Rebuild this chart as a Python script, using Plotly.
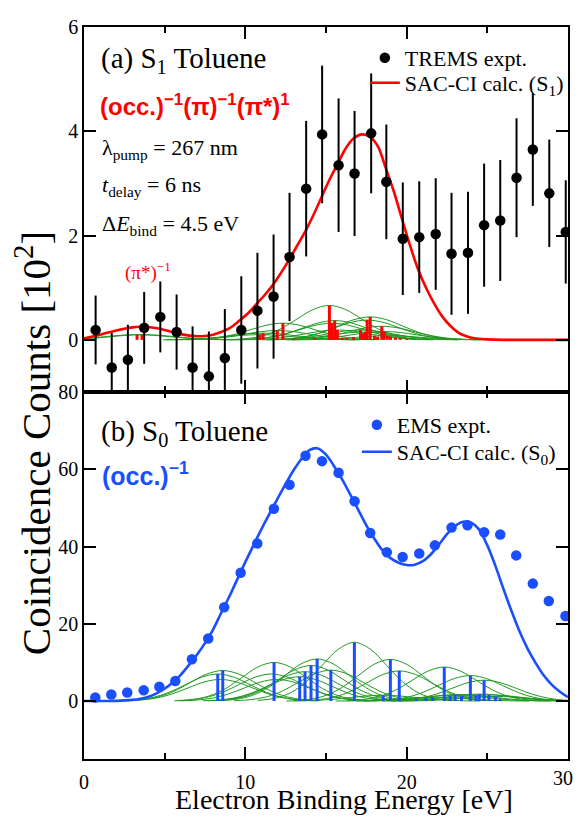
import plotly.graph_objects as go

SERIF = "Liberation Serif, Times New Roman, serif"
SANS = "Liberation Sans, Arial, sans-serif"
RED = "#ff0000"
BLUE = "#1a4fff"
GREEN = "#1f9a1f"

# ---------------- (a) S1 toluene : TREMS experiment ----------------
trems_x = [0.72, 1.72, 2.72, 3.73, 4.73, 5.74, 6.73, 7.74, 8.73, 9.75,
           10.75, 11.75, 12.74, 13.77, 14.76, 15.78, 16.77, 17.80, 18.74, 19.76,
           20.78, 21.80, 22.78, 23.80, 24.80, 25.80, 26.81, 27.82, 28.84, 29.86]
trems_y = [0.19, -0.53, -0.38, 0.23, 0.44, 0.15, -0.53, -0.70, -0.35, 0.19,
           0.56, 0.83, 1.59, 2.90, 3.94, 3.35, 3.19, 3.96, 3.03, 1.94,
           1.97, 2.03, 1.65, 1.67, 2.20, 2.29, 3.11, 3.65, 2.81, 2.07]
trems_err = [0.66, 0.66, 0.67, 0.69, 0.68, 0.72, 0.79, 0.86, 0.94, 1.03,
             1.11, 1.19, 1.23, 1.30, 1.32, 1.28, 1.20, 1.15, 1.10, 1.08,
             1.07, 1.07, 1.17, 1.17, 1.18, 1.16, 1.14, 1.08, 1.03, 0.99]

# SAC-CI (S1) envelope
s1_x = [0, 1, 2, 3, 3.5, 4, 5, 6, 7, 7.5, 8, 8.5, 9, 9.6, 10.2, 10.7, 11.2, 11.7,
        12.2, 12.7, 13.2, 13.7, 14.2, 14.7, 15.2, 15.7, 16.2, 16.7, 17.2, 17.7,
        18.2, 18.7, 19.2, 19.7, 20.2, 20.7, 21.2, 21.7, 22.2, 22.7, 23.2, 23.7,
        24.2, 25, 26, 28, 30]
s1_y = [0.03, 0.10, 0.18, 0.24, 0.25, 0.245, 0.19, 0.11, 0.07, 0.075, 0.10, 0.15,
        0.22, 0.36, 0.52, 0.69, 0.86, 1.05, 1.28, 1.53, 1.80, 2.07, 2.38, 2.72,
        3.06, 3.36, 3.66, 3.86, 3.94, 3.90, 3.72, 3.30, 2.85, 2.33, 1.82, 1.36,
        1.00, 0.70, 0.45, 0.27, 0.14, 0.07, 0.03, 0.01, 0, 0, 0]

# SAC-CI (S1) stick spectrum
s1_stick_x = [3.29, 3.60, 10.90, 11.10, 11.98, 12.33, 13.00, 14.30, 15.21, 15.37,
              15.54, 15.70, 16.00, 16.30, 16.70, 17.14, 17.30, 17.45, 17.55, 17.74,
              18.00, 18.20, 18.46, 18.60, 18.80, 19.00, 19.30, 19.60, 20.00]
s1_stick_h = [0.10, 0.10, 0.10, 0.13, 0.18, 0.32, 0.02, 0.03, 0.66, 0.32,
              0.37, 0.19, 0.04, 0.03, 0.05, 0.19, 0.12, 0.15, 0.38, 0.44,
              0.08, 0.06, 0.26, 0.16, 0.08, 0.06, 0.04, 0.03, 0.02]

# broadened (green) components of (a)
s1_band_c = [3.29, 3.66, 10.90, 11.10, 11.98, 12.33, 15.21, 15.37, 15.54, 15.70,
             17.14, 17.35, 17.55, 17.74, 18.46, 18.60, 18.90]
s1_band_h = [0.10, 0.10, 0.10, 0.13, 0.18, 0.32, 0.66, 0.32, 0.37, 0.19,
             0.19, 0.15, 0.38, 0.44, 0.26, 0.16, 0.08]

# ---------------- (b) S0 toluene : EMS experiment ----------------
ems_x = [0.70, 1.69, 2.68, 3.70, 4.67, 5.66, 6.69, 7.70, 8.69, 9.71,
         10.74, 11.77, 12.74, 13.73, 14.75, 15.78, 16.77, 17.74, 18.77, 19.75,
         20.78, 21.75, 22.78, 23.77, 24.80, 25.80, 26.79, 27.82, 28.81, 29.84]
ems_y = [0.9, 1.7, 2.2, 2.8, 3.7, 5.2, 10.8, 16.2, 24.3, 33.2,
         40.8, 49.8, 56.0, 63.5, 62.1, 59.1, 51.7, 43.5, 38.5, 37.3,
         38.2, 40.3, 44.9, 45.5, 43.7, 43.1, 37.7, 30.4, 25.9, 22.0]

s0_x = [0, 1, 2, 3, 3.5, 4, 4.5, 5, 5.5, 6, 6.5, 7, 7.5, 8, 8.5, 9, 9.5, 10,
        10.5, 11, 11.5, 12, 12.5, 13, 13.5, 14, 14.5, 15, 15.5, 16, 16.5, 17,
        17.5, 18, 18.5, 19, 19.5, 20, 20.5, 21, 21.5, 22, 22.5, 23, 23.5, 24,
        24.5, 25, 25.5, 26, 26.5, 27, 27.5, 28, 28.5, 29, 29.5, 30]
s0_y = [0, 0, 0.05, 0.3, 0.6, 1.1, 2.0, 3.2, 4.8, 6.8, 9.3, 12.0, 15.0, 18.5,
        22.8, 27.0, 31.5, 36.0, 40.3, 44.5, 48.5, 52.4, 56.2, 59.8, 62.8, 65.0,
        65.4, 63.8, 60.8, 57.4, 53.5, 49.5, 45.5, 42.0, 39.0, 37.0, 35.8, 35.2,
        35.3, 36.2, 38.0, 40.5, 43.2, 45.3, 46.4, 46.2, 44.3, 40.3, 35.0, 29.0,
        23.3, 18.0, 13.5, 9.8, 6.6, 4.2, 2.4, 1.0]

s0_stick_x = [8.29, 8.60, 11.78, 13.37, 13.70, 14.07, 14.45, 15.30, 16.76, 18.54,
              18.99, 19.54, 20.60, 21.20, 21.60, 22.33, 22.70, 23.00, 23.40, 23.95,
              24.30, 24.50, 24.80, 25.10, 25.50, 25.80]
s0_stick_h = [7.0, 7.9, 10.0, 6.3, 7.6, 9.2, 10.9, 8.0, 15.2, 1.5,
              10.8, 7.8, 0.6, 0.8, 1.0, 8.8, 1.4, 1.7, 1.3, 6.6,
              1.5, 1.8, 5.4, 1.6, 1.2, 0.6]

s0_band_c = [8.29, 8.45, 8.60, 11.60, 11.78, 11.95, 13.37, 13.70, 14.07, 14.45,
             15.30, 16.76, 18.54, 18.99, 19.54, 21.60, 22.33, 22.90, 23.30, 23.95,
             24.50, 24.80, 25.10, 25.50]
s0_band_h = [7.0, 5.6, 7.9, 7.0, 10.0, 5.6, 6.3, 7.6, 9.2, 10.9,
             8.0, 15.2, 1.5, 10.8, 7.8, 1.0, 8.8, 1.5, 1.7, 6.6,
             1.8, 5.4, 1.6, 1.2]

# relative shape of one broadened band
band_dx = [-6, -5, -4, -3, -2, -1, 0, 1, 2, 3, 4, 5, 6]
band_shape = [0.011, 0.044, 0.135, 0.325, 0.607, 0.882, 1.0,
              0.882, 0.607, 0.325, 0.135, 0.044, 0.011]

x_tickvals = [0, 10, 20, 30]
x_ticktext = ["0", "10", "20", ""]      # "30" is placed as a text at the edge

fig = go.Figure()


def add_bands(centers, heights, xa, ya):
    for c, h in zip(centers, heights):
        fig.add_trace(go.Scatter(
            x=[c + d for d in band_dx], y=[h * s for s in band_shape],
            mode="lines", line=dict(color=GREEN, width=1, shape="spline"),
            xaxis=xa, yaxis=ya, showlegend=False, hoverinfo="skip"))


def add_sticks(pos, hts, color, width, xa, ya):
    xs, ys = [], []
    for p, h in zip(pos, hts):
        xs += [p, p, None]
        ys += [0, h, None]
    fig.add_trace(go.Scatter(x=xs, y=ys, mode="lines",
                             line=dict(color=color, width=width),
                             xaxis=xa, yaxis=ya, showlegend=False,
                             hoverinfo="skip"))


# ---- panel (a): top (x2, y2)
add_bands(s1_band_c, s1_band_h, "x2", "y2")
add_sticks(s1_stick_x, s1_stick_h, RED, 3, "x2", "y2")
fig.add_trace(go.Scatter(x=s1_x, y=s1_y, mode="lines",
                         line=dict(color=RED, width=2.6, shape="spline"),
                         name="SAC-CI calc. (S<sub>1</sub>)", legend="legend2",
                         xaxis="x2", yaxis="y2"))
fig.add_trace(go.Scatter(x=trems_x, y=trems_y, mode="markers",
                         marker=dict(color="black", size=10.5),
                         error_y=dict(type="data", array=trems_err,
                                      color="black", thickness=2, width=0),
                         name="TREMS expt.", legend="legend",
                         xaxis="x2", yaxis="y2"))

# ---- panel (b): bottom (x, y)
add_bands(s0_band_c, s0_band_h, "x", "y")
add_sticks(s0_stick_x, s0_stick_h, BLUE, 3, "x", "y")
fig.add_trace(go.Scatter(x=s0_x, y=s0_y, mode="lines",
                         line=dict(color=BLUE, width=2.6, shape="spline"),
                         name="SAC-CI calc. (S<sub>0</sub>)", legend="legend4",
                         xaxis="x", yaxis="y"))
fig.add_trace(go.Scatter(x=ems_x, y=ems_y, mode="markers",
                         marker=dict(color=BLUE, size=10.5),
                         name="EMS expt.", legend="legend3",
                         xaxis="x", yaxis="y"))

# ---------------- layout ----------------
# page body has an 8 px margin; keep the figure inside the 585x823 window
# so the plot area lands on page x 84..570, y 27..759
OFF = 8
W, H = 585 - 2 * OFF, 823 - 2 * OFF
L, T = 84 - OFF, 27 - OFF
R = W - (570 - OFF)
B = H - (759 - OFF)
PW, PH = W - L - R, H - T - B
SPLIT = (759 - 392) / PH


def px(xp):          # page pixel x -> paper
    return (xp - 84) / PW


def py(yp):          # page pixel y -> paper
    return (759 - yp) / PH


axis_common = dict(showline=True, linewidth=1.5, linecolor="black",
                   mirror="ticks", ticks="inside", ticklen=12, tickwidth=1.5,
                   tickcolor="black", showgrid=False, zeroline=False,
                   tickfont=dict(family=SERIF, size=20, color="black"))

minor_x = dict(dtick=5, tick0=0, ticks="inside", ticklen=6, tickwidth=1.5,
               tickcolor="black")


def leg(xp, yp):
    return dict(x=px(xp), y=py(yp), xanchor="left", yanchor="middle",
                bgcolor="rgba(0,0,0,0)", borderwidth=0,
                font=dict(family=SERIF, size=22, color="black"))


fig.update_layout(
    width=W, height=H,
    margin=dict(l=L, r=R, t=T, b=B, pad=0),
    paper_bgcolor="white", plot_bgcolor="white",
    font=dict(family=SERIF, size=20, color="black"),
    xaxis=dict(domain=[0, 1], anchor="y", range=[0, 30],
               tickvals=x_tickvals, ticktext=x_ticktext,
               ticklabelstandoff=4, minor=minor_x, **axis_common),
    xaxis2=dict(domain=[0, 1], anchor="y2", range=[0, 30], matches="x",
                tickvals=x_tickvals, showticklabels=False,
                minor=minor_x, **axis_common),
    yaxis=dict(domain=[0, SPLIT], anchor="x", range=[-15, 80],
               tickvals=[0, 20, 40, 60, 80], **axis_common),
    yaxis2=dict(domain=[SPLIT, 1], anchor="x2", range=[-1, 6],
                tickvals=[0, 2, 4, 6], **axis_common),
    legend=leg(366, 58),
    legend2=leg(366, 83),
    legend3=leg(358, 425),
    legend4=leg(358, 452),
    showlegend=True,
)

ann = [
    dict(text="(a) S<sub>1</sub> Toluene", x=px(99), y=py(60), size=29,
         family=SERIF, color="black"),
    dict(text="<b>(occ.)<sup>\u22121</sup>(\u03c0)<sup>\u22121</sup>(\u03c0*)<sup>1</sup></b>",
         x=px(98), y=py(105), size=24, family=SANS, color=RED),
    dict(text="\u03bb<sub>pump</sub> = 267 nm", x=px(100), y=py(149), size=22,
         family=SERIF, color="black"),
    dict(text="<i>t</i><sub>delay</sub> = 6 ns", x=px(100), y=py(186), size=22,
         family=SERIF, color="black"),
    dict(text="\u0394<i>E</i><sub>bind</sub> = 4.5 eV", x=px(100), y=py(225),
         size=22, family=SERIF, color="black"),
    dict(text="(\u03c0*)<sup>\u22121</sup>", x=px(123), y=py(271), size=19,
         family=SERIF, color=RED),
    dict(text="(b) S<sub>0</sub> Toluene", x=px(99), y=py(433), size=29,
         family=SERIF, color="black"),
    dict(text="<b>(occ.)<sup>\u22121</sup></b>", x=px(100), y=py(474), size=25,
         family=SANS, color=BLUE),
]
for a in ann:
    fig.add_annotation(text=a["text"], x=a["x"], y=a["y"], xref="paper",
                       yref="paper", xanchor="left", yanchor="middle",
                       showarrow=False,
                       font=dict(family=a["family"], size=a["size"],
                                 color=a["color"]))

# last x tick label, kept inside the window
fig.add_annotation(text="30", x=px(577), y=py(778), xref="paper", yref="paper",
                   xanchor="right", yanchor="middle", showarrow=False,
                   font=dict(family=SERIF, size=20, color="black"))

# axis titles
fig.add_annotation(text="Electron Binding Energy [eV]", x=px(345), y=py(799),
                   xref="paper", yref="paper", xanchor="center",
                   yanchor="middle", showarrow=False,
                   font=dict(family=SERIF, size=28, color="black"))
fig.add_annotation(text="Coincidence Counts [10<sup>2</sup>]", x=px(33),
                   y=py(443), xref="paper", yref="paper", xanchor="center",
                   yanchor="middle", textangle=-90, showarrow=False,
                   font=dict(family=SERIF, size=41, color="black"))

fig.write_html("out.html", config={"displayModeBar": False})
